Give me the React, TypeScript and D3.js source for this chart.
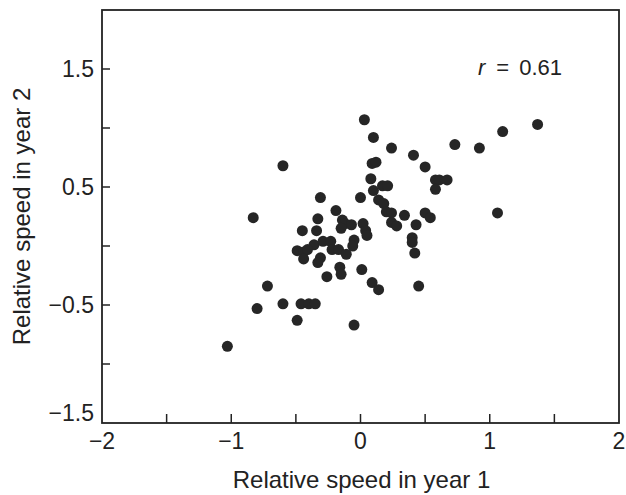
import React from "react";
import * as d3 from "d3";

const xVals = [0.03, 0.10, 0.24, 0.41, 0.50, 0.73, 0.92, 1.10, 1.37, -0.60, 0.09, 0.12, 0.08, 0.58, 0.61, 0.67, 0.58, 0.10, 0.17, 0.21, 0.00, -0.31, 0.14, 0.18, 0.20, 0.24, 0.34, 0.50, 0.54, 1.06, -0.83, -0.19, -0.33, -0.14, -0.12, -0.07, -0.15, 0.02, 0.04, 0.05, 0.24, 0.28, 0.43, -0.45, -0.34, 0.40, 0.40, 0.42, -0.05, -0.06, -0.36, -0.29, -0.23, -0.49, -0.44, -0.41, -0.44, -0.22, -0.17, -0.11, -0.31, -0.33, 0.01, -0.16, -0.15, -0.26, 0.09, 0.14, 0.45, -0.72, -0.80, -0.60, -0.46, -0.40, -0.35, -0.49, -0.05, -1.03];
const yVals = [1.07, 0.92, 0.83, 0.77, 0.67, 0.86, 0.83, 0.97, 1.03, 0.68, 0.70, 0.71, 0.57, 0.56, 0.56, 0.56, 0.48, 0.47, 0.51, 0.51, 0.41, 0.41, 0.39, 0.36, 0.29, 0.28, 0.26, 0.28, 0.24, 0.28, 0.24, 0.30, 0.23, 0.22, 0.19, 0.18, 0.15, 0.19, 0.13, 0.09, 0.20, 0.17, 0.18, 0.13, 0.13, 0.07, 0.03, -0.06, 0.05, 0.00, 0.01, 0.04, 0.04, -0.04, -0.05, -0.03, -0.11, -0.03, -0.03, -0.07, -0.10, -0.14, -0.20, -0.18, -0.24, -0.26, -0.31, -0.37, -0.34, -0.34, -0.53, -0.49, -0.49, -0.49, -0.49, -0.63, -0.67, -0.85];

const xTickLabels = [-2, -1, 0, 1, 2];
const xTicksAll = [-2, -1.5, -1, -0.5, 0, 0.5, 1, 1.5, 2];
const yTickLabels = [1.5, 0.5, -0.5, -1.5];
const yTicksAll = [1.5, 1, 0.5, 0, -0.5, -1, -1.5];

const fmt = (v: number) => (v < 0 ? "\u2212" + Math.abs(v) : String(v));

export default function App() {
  const W = 626, H = 495;
  const L = 102, R = 619, T = 10, B = 423;
  const x = d3.scaleLinear().domain([-2, 2]).range([L, R]);
  const y = d3.scaleLinear().domain([-1.5, 2]).range([B, T]);
  const ink = "#222";
  const font = "'Liberation Sans', Arial, Helvetica, sans-serif";
  return (
    <svg width={W} height={H} style={{ position: "absolute", left: 0, top: 0, background: "#fff" }} fontFamily={font}>
      <rect x={L} y={T} width={R - L} height={B - T} fill="none" stroke={ink} strokeWidth={1.8} />
      {xTicksAll.slice(1, -1).map((t) => (
        <line key={"xt" + t} x1={x(t)} x2={x(t)} y1={B} y2={B - 9} stroke={ink} strokeWidth={1.5} />
      ))}
      {yTicksAll.slice(0, -1).map((t) => (
        <line key={"yt" + t} x1={L} x2={L + 8} y1={y(t)} y2={y(t)} stroke={ink} strokeWidth={1.5} />
      ))}
      {xTickLabels.map((t) => (
        <text key={"xl" + t} x={x(t)} y={B + 26} textAnchor="middle" fontSize={23} fill={ink}>{fmt(t)}</text>
      ))}
      {yTickLabels.map((t) => (
        <text key={"yl" + t} x={L - 8} y={t === -1.5 ? y(t) - 2 : y(t) + 8} textAnchor="end" fontSize={23} fill={ink}>{fmt(t)}</text>
      ))}
      {xVals.map((v, i) => (
        <circle key={"p" + i} cx={x(v)} cy={y(yVals[i])} r={5.5} fill="#262626" />
      ))}
      <text x={478} y={75} fontSize={22} fill={ink}>
        <tspan fontStyle="italic">r</tspan>
        <tspan dx={11}>=</tspan>
        <tspan dx={10}>0.61</tspan>
      </text>
      <text x={(L + R) / 2 + 1} y={488} textAnchor="middle" fontSize={24} fill={ink}>Relative speed in year 1</text>
      <text transform={`translate(30, ${(T + B) / 2}) rotate(-90)`} textAnchor="middle" fontSize={24} fill={ink}>Relative speed in year 2</text>
    </svg>
  );
}
